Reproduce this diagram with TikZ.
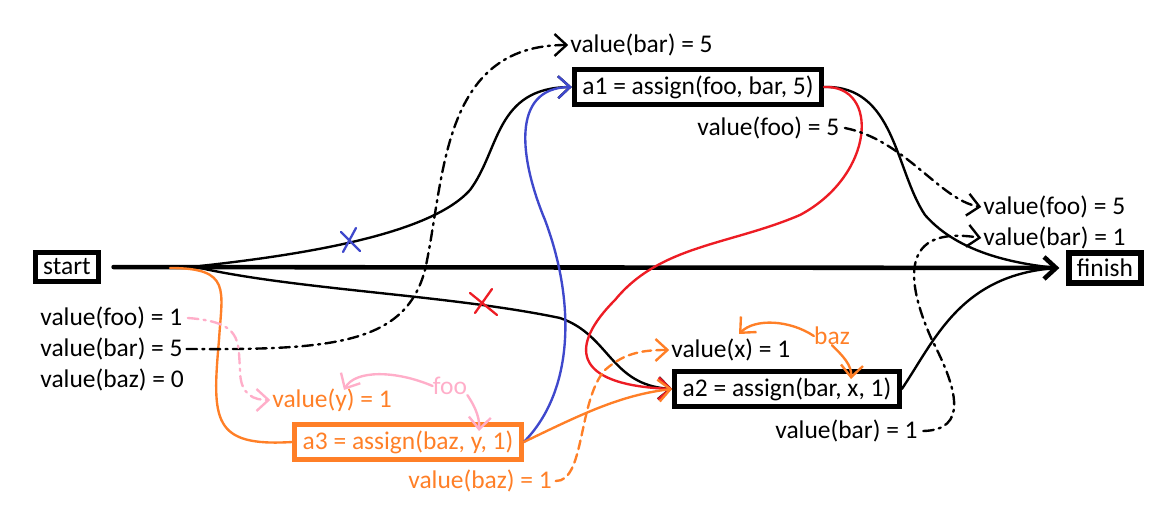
\documentclass[tikz,border=0pt]{standalone}
\usepackage{fontspec}
\setmainfont{Carlito}
\usepackage{tikz}
\usetikzlibrary{arrows.meta}
\definecolor{pen}{HTML}{000000}
\definecolor{penblue}{HTML}{3F48CC}
\definecolor{penred}{HTML}{ED1C24}
\definecolor{penorange}{HTML}{FF7F27}
\definecolor{penpink}{HTML}{FFAEC9}
\newcommand{\hand}{\fontsize{14.5pt}{17pt}\selectfont}
\tikzset{box/.style={draw,line width=3pt,inner xsep=4.5pt,inner ysep=3.5pt,font=\hand},
lab/.style={inner sep=0pt,font=\hand},
tip/.style={-{Straight Barb[length=2.4mm,width=4.4mm]}},
flow/.style={line width=1.35pt,line cap=round,line join=round},
note/.style={flow,tip,dash pattern=on 6pt off 3pt on 1.2pt off 3pt},
spoke/.style={line width=1.3pt,line cap=round}}
\begin{document}
\begin{tikzpicture}[x=.02cm,y=-.02cm]
\useasboundingbox (0,0) rectangle (1164,523);
% operations
\node[box] (start) at (67,267) {start};
\node[box] (finish) at (1105,268) {finish};
\node[box] (a1) at (698,87) {a1 = assign(foo, bar, 5)};
\node[box] (a2) at (787,389) {a2 = assign(bar, x, 1)};
\node[box,draw=penorange,text=penorange] (a3) at (408,442) {a3 = assign(baz, y, 1)};
% values
\node[lab,anchor=west] (topbar) at (570,45) {value(bar) = 5};
\node[lab,anchor=west] (foo5) at (697,128) {value(foo) = 5};
\node[lab,anchor=west] (foo5r) at (983,207) {value(foo) = 5};
\node[lab,anchor=west] (bar1r) at (983,238) {value(bar) = 1};
\node[lab,anchor=west] (foo1) at (40,318) {value(foo) = 1};
\node[lab,anchor=west] (bar5) at (40,349) {value(bar) = 5};
\node[lab,anchor=west] (baz0) at (40,380) {value(baz) = 0};
\node[lab,anchor=west,text=penorange] (y1) at (272,400) {value(y) = 1};
\node[lab,anchor=west,text=penorange] (baz1) at (408,481) {value(baz) = 1};
\node[lab,anchor=west] (x1) at (671,350) {value(x) = 1};
\node[lab,anchor=west] (bar1) at (775,431) {value(bar) = 1};
\node[lab,text=penpink] (foolbl) at (450,386) {foo};
\node[lab,text=penorange] (bazlbl) at (832,336) {baz};
\coordinate (split1) at (200,266);
\coordinate (split2) at (200,268);
\coordinate (orsplit) at (170,268);
\coordinate (ychar) at (344,390);
\coordinate (ybox) at (479,431);
\coordinate (xchar) at (739,334);
\coordinate (xbox) at (851,379);
% main line
\draw[flow,tip,line width=2.6pt,shorten <=7pt,shorten >=4pt] (start) -- (finish);
% black flows
\draw[flow,tip] (split1) .. controls (300,255) and (430,235) .. (470,190)
  .. controls (500,150) and (495,88) .. (a1.west);
\draw[flow,tip] (split2) .. controls (300,290) and (450,295) .. (560,318)
  .. controls (610,335) and (610,385) .. (a2.west);
\draw[flow] (a1.east) .. controls (895,85) and (895,170) .. (925,215)
  .. controls (960,255) and (1020,264) .. ([xshift=-6pt]finish.west);
\draw[flow] (a2.east) .. controls (935,340) and (960,275) .. ([xshift=-6pt]finish.west);
% blue, red, orange flows
\draw[flow,tip,penblue] (a3.east) .. controls (575,390) and (575,300) .. (545,220)
  .. controls (520,160) and (510,88) .. (a1.west);
\draw[flow,tip,penred] (a1.east) .. controls (880,85) and (875,175) .. (800,215)
  .. controls (730,245) and (660,245) .. (615,300)
  .. controls (570,345) and (570,385) .. (a2.west);
\draw[flow,tip,penorange] (a3.east) .. controls (580,415) and (620,395) .. (a2.west);
\draw[flow,penorange] (orsplit) .. controls (232,268) and (222,290) .. (219,340)
  .. controls (212,420) and (212,447) .. (a3.west);
% crosses
\draw[spoke,penblue] (341,232) -- (360,251) (356,228) -- (343,252);
\draw[spoke,penred] (470,293) -- (497,315) (492,289) -- (475,313);
% value notes
\draw[note] ([xshift=2pt]bar5.east) .. controls (330,350) and (405,345) .. (425,270)
  .. controls (445,180) and (440,45) .. ([xshift=-1pt]topbar.west);
\draw[note] ([xshift=3pt]foo5.east) .. controls (905,140) and (940,200) .. ([xshift=-1pt]foo5r.west);
\draw[note] ([xshift=3pt]bar1.east) .. controls (968,430) and (958,390) .. (932,340)
  .. controls (905,280) and (900,225) .. ([xshift=-1pt]bar1r.west);
\draw[note,penorange,dash pattern=on 5pt off 3pt] ([xshift=2pt]baz1.east)
  .. controls (585,482) and (578,400) .. (605,370)
  .. controls (625,352) and (645,350) .. ([xshift=-1pt]x1.west);
\draw[note,penpink] ([xshift=3pt]foo1.east) .. controls (242,322) and (238,340) .. (240,370)
  .. controls (240,396) and (255,400) .. ([xshift=-1pt]y1.west);
% variable hints
\draw[flow,tip,penpink] (foolbl.west) .. controls (395,370) and (355,370) .. (ychar);
\draw[flow,tip,penpink] (foolbl.south east) .. controls (472,402) and (480,415) .. (ybox);
\draw[flow,tip,penorange] (bazlbl.west) .. controls (790,320) and (755,318) .. (xchar);
\draw[flow,tip,penorange] (bazlbl.south) .. controls (842,355) and (852,365) .. (xbox);
\end{tikzpicture}
\end{document}
